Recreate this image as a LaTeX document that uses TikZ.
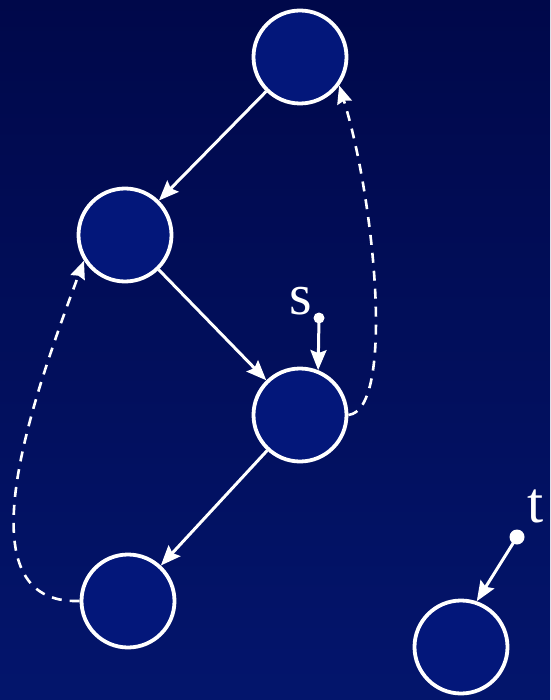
\documentclass[tikz,border=0pt]{standalone}
\usepackage{fontspec}
\setmainfont{Liberation Serif}
\usetikzlibrary{arrows.meta}
\definecolor{bgtop}{HTML}{00084A}
\definecolor{bgbot}{HTML}{03156C}
\definecolor{nodefill}{HTML}{03177A}
\tikzset{
  vertex/.style={circle, draw=white, line width=3.8pt, fill=nodefill, minimum size=93pt, inner sep=0pt},
  tree/.style={-{Stealth[length=20pt, width=16pt, inset=3pt]}, line width=3pt, color=white},
  back/.style={-{Stealth[length=18pt, width=15pt, inset=2pt]}, line width=2.6pt, color=white, dash pattern=on 10pt off 8pt},
  src/.style={circle, fill=white, inner sep=0pt, minimum size=11pt},
  every node/.append style={font=\fontsize{58}{58}\selectfont, text=white}
}

\begin{document}
\begin{tikzpicture}[x=1pt, y=-1pt]
\shade[top color=bgtop, bottom color=bgbot] (0,0) rectangle (550,700);
\useasboundingbox (0,0) rectangle (550,700);
\node[vertex] (a) at (300,57) {};
\node[vertex] (b) at (125,235) {};
\node[vertex] (c) at (300,415) {};
\node[vertex] (d) at (128,601) {};
\node[vertex] (e) at (461,647) {};
% tree edges
\draw[tree] (a) -- (b);
\draw[tree] (b) -- (c);
\draw[tree] (c) -- (d);
% back edges
\draw[back] (c.east) .. controls (395,410) and (375,200) .. (a.-36);
\draw[back] (d.west) .. controls (-40,605) and (30,405) .. (b.-148);
% start points
\node[src] (sdot) at (319,318) {};
\node[src, minimum size=15pt] (tdot) at (517,537) {};
\node (s) at (301,301) {s};
\node (t) at (536,506) {t};
\draw[tree] (sdot.center) -- (c.68);
\draw[tree] (tdot.center) -- (e.71);
\end{tikzpicture}
\end{document}
